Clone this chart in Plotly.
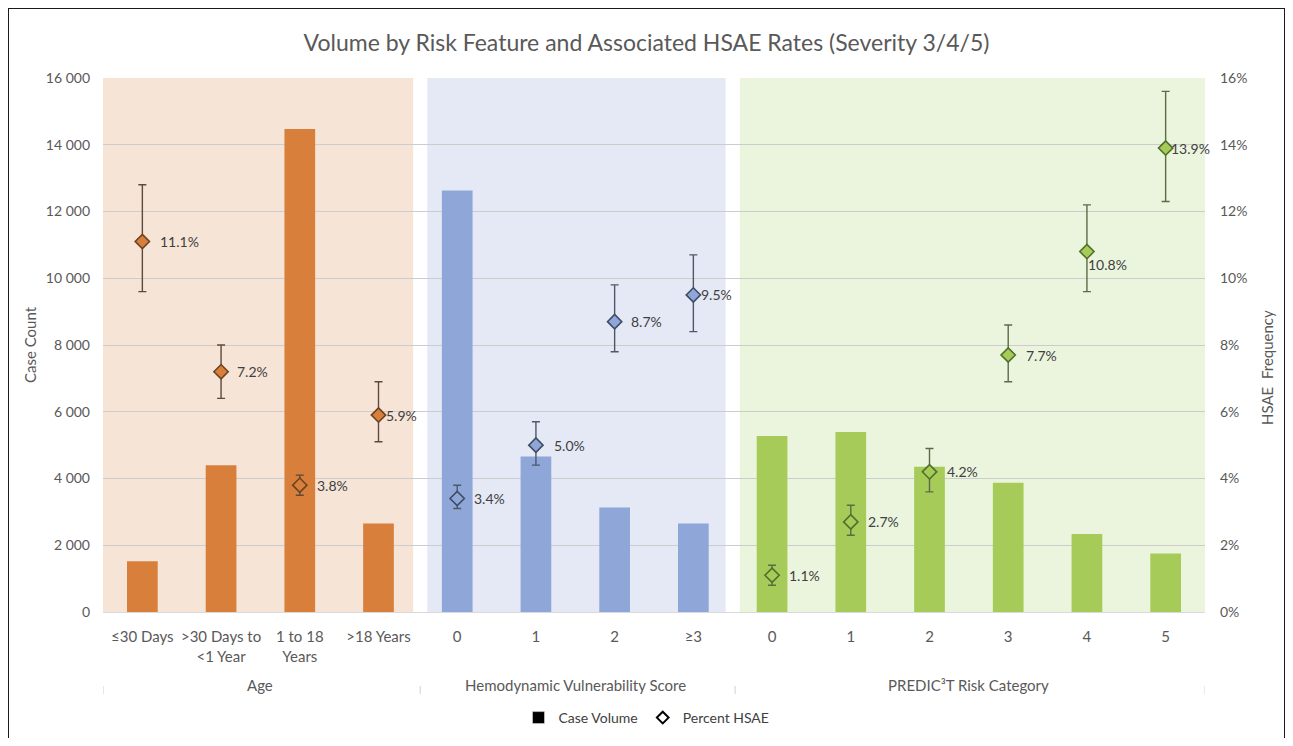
import plotly.graph_objects as go

# ---------------- data ----------------
GROUP_NAMES = ["Age", "Hemodynamic Vulnerability Score", "PREDIC³T Risk Category"]
AGE_CATS = ["≤30 Days", ">30 Days to<br><1 Year", "1 to 18<br>Years", ">18 Years"]
HVS_CATS = ["0", "1", "2", "≥3"]
PRED_CATS = ["0", "1", "2", "3", "4", "5"]

AGE_VOLUME = [1520, 4400, 14470, 2650]
HVS_VOLUME = [12630, 4660, 3130, 2650]
PRED_VOLUME = [5270, 5390, 4350, 3870, 2340, 1750]

AGE_RATE = [11.1, 7.2, 3.8, 5.9]
HVS_RATE = [3.4, 5.0, 8.7, 9.5]
PRED_RATE = [1.1, 2.7, 4.2, 7.7, 10.8, 13.9]

AGE_CI_LOW = [9.6, 6.4, 3.5, 5.1]
AGE_CI_HIGH = [12.8, 8.0, 4.1, 6.9]
HVS_CI_LOW = [3.1, 4.4, 7.8, 8.4]
HVS_CI_HIGH = [3.8, 5.7, 9.8, 10.7]
PRED_CI_LOW = [0.8, 2.3, 3.6, 6.9, 9.6, 12.3]
PRED_CI_HIGH = [1.4, 3.2, 4.9, 8.6, 12.2, 15.6]

Y_TICKS = [0, 2000, 4000, 6000, 8000, 10000, 12000, 14000, 16000]
Y2_TICKS = [0, 2, 4, 6, 8, 10, 12, 14, 16]

TITLE = "Volume by Risk Feature and Associated HSAE Rates (Severity 3/4/5)"

# ---------------- styles / layout ----------------
FONT = "Lato"
TXT = "#595959"
STYLES = [
    dict(bar="#d77f3b", bg="#f6e4d7", mline="#6b4423", err="#5d4a3c"),
    dict(bar="#8fa6d8", bg="#e5e9f5", mline="#3f4c66", err="#4f5868"),
    dict(bar="#a6cb58", bg="#ebf5de", mline="#50702c", err="#5b6b48"),
]
BG_SPANS = [(-0.5, 3.44), (3.62, 7.41), (7.59, 13.5)]
SEP_X = [-0.5, 3.53, 7.53, 13.5]
LABEL_OFFSETS = [(16, 0), (14, 0), (15, 0), (5, 0),
                 (15, 0), (16, 0), (14, 0), (6, 0),
                 (15, 0), (15, 0), (15, 0), (16, 0), (-1, -13), (3, 0)]

W, H = 1293, 746
OFF = 8  # browser body margin
FW, FH = W - 2 * OFF, H - 2 * OFF
PL, PR, PT, PB = 103, 1205, 78, 612  # plot area in page px


def px_x(x):
    return (x - PL) / (PR - PL)


def px_y(y):
    return (PB - y) / (PB - PT)


def cont_y(y):
    return 1 - (y - OFF) / FH


groups = [
    (AGE_CATS, AGE_VOLUME, AGE_RATE, AGE_CI_LOW, AGE_CI_HIGH),
    (HVS_CATS, HVS_VOLUME, HVS_RATE, HVS_CI_LOW, HVS_CI_HIGH),
    (PRED_CATS, PRED_VOLUME, PRED_RATE, PRED_CI_LOW, PRED_CI_HIGH),
]

fig = go.Figure()
tickvals, ticktext = [], []
annotations = []
shapes = []
start = 0
label_i = 0
for gi, (cats, vol, rate, lo, hi) in enumerate(groups):
    st = STYLES[gi]
    xs = list(range(start, start + len(cats)))
    tickvals += xs
    ticktext += cats
    fig.add_trace(go.Bar(
        x=xs, y=vol, width=0.39, marker=dict(color=st["bar"], line=dict(width=0)),
        showlegend=False, hoverinfo="skip",
    ))
    fig.add_trace(go.Scatter(
        x=xs, y=rate, yaxis="y2", mode="markers",
        marker=dict(symbol="diamond", size=11, color=st["bar"],
                    line=dict(color=st["mline"], width=1.6)),
        error_y=dict(type="data", symmetric=False,
                     array=[h - r for h, r in zip(hi, rate)],
                     arrayminus=[r - l for l, r in zip(lo, rate)],
                     color=st["err"], thickness=1.4, width=4),
        showlegend=False, hoverinfo="skip",
    ))
    for x, r in zip(xs, rate):
        dx, dy = LABEL_OFFSETS[label_i]
        label_i += 1
        annotations.append(dict(
            x=x, y=r, xref="x", yref="y2", text=f"{r:.1f}%", showarrow=False,
            xanchor="left", yanchor="middle", xshift=dx, yshift=dy,
            font=dict(family=FONT, size=14, color="#404040"),
        ))
    # group label
    center = (xs[0] + xs[-1]) / 2
    annotations.append(dict(
        x=center, xref="x", y=px_y(685), yref="paper", text=GROUP_NAMES[gi],
        showarrow=False, xanchor="center", yanchor="middle",
        font=dict(family=FONT, size=15, color=TXT),
    ))
    x0, x1 = BG_SPANS[gi]
    shapes.append(dict(type="rect", xref="x", yref="y", x0=x0, x1=x1, y0=0, y1=16000,
                       fillcolor=st["bg"], line=dict(width=0), layer="below"))
    start += len(cats)

for sx in SEP_X:
    shapes.append(dict(type="line", xref="x", yref="paper", x0=sx, x1=sx,
                       y0=px_y(686), y1=px_y(694), line=dict(color="#d0d0d0", width=1)))

# chart border
shapes.append(dict(type="rect", xref="paper", yref="paper",
                   x0=px_x(8), x1=px_x(1285), y0=px_y(745), y1=px_y(8),
                   line=dict(color="#1a1a1a", width=2), fillcolor="rgba(0,0,0,0)"))

# axis titles
annotations.append(dict(x=px_x(30), y=px_y(345), xref="paper", yref="paper",
                        text="Case Count", textangle=-90, showarrow=False,
                        xanchor="center", yanchor="middle",
                        font=dict(family=FONT, size=15, color=TXT)))
annotations.append(dict(x=px_x(1267), y=px_y(368), xref="paper", yref="paper",
                        text="HSAE  Frequency", textangle=-90, showarrow=False,
                        xanchor="center", yanchor="middle",
                        font=dict(family=FONT, size=15, color=TXT)))

# legend-only entries
fig.add_trace(go.Bar(x=[None], y=[None], name="Case Volume",
                     marker=dict(color="#000000")))
fig.add_trace(go.Scatter(x=[None], y=[None], name="Percent HSAE", mode="markers",
                         marker=dict(symbol="diamond-open", size=9, color="#000000",
                                     line=dict(width=2))))

fig.update_layout(
    width=FW, height=FH,
    margin=dict(l=PL - OFF, r=W - OFF - PR, t=PT - OFF, b=H - OFF - PB),
    paper_bgcolor="white", plot_bgcolor="white",
    barmode="overlay",
    separators=". ",
    font=dict(family=FONT, color=TXT),
    title=dict(text=TITLE, x=0.5, xanchor="center", y=cont_y(43),
               yanchor="middle", font=dict(family=FONT, size=23, color=TXT)),
    xaxis=dict(range=[-0.5, 13.5], tickvals=tickvals, ticktext=ticktext,
               showgrid=False, zeroline=False, showline=True, linecolor="#d9d9d9",
               ticks="", tickfont=dict(family=FONT, size=15, color=TXT),
               ticklabelstandoff=11, automargin=False),
    yaxis=dict(range=[0, 16000], tickvals=Y_TICKS, tickformat=",d",
               showgrid=True, gridcolor="#cccccc", gridwidth=1, zeroline=False,
               ticks="", tickfont=dict(family=FONT, size=14, color=TXT),
               ticklabelstandoff=12, automargin=False),
    yaxis2=dict(range=[0, 16], tickvals=Y2_TICKS, ticktext=[f"{v}%" for v in Y2_TICKS],
                overlaying="y", side="right", showgrid=False, zeroline=False, ticks="",
                tickfont=dict(family=FONT, size=14, color=TXT), ticklabelstandoff=14,
                automargin=False),
    legend=dict(orientation="h", x=0.5, xref="container", xanchor="center",
                y=cont_y(718), yref="container", yanchor="middle",
                font=dict(family=FONT, size=14, color="#404040"),
                itemwidth=30, tracegroupgap=0),
    annotations=annotations,
    shapes=shapes,
)

fig.write_html("out.html")
